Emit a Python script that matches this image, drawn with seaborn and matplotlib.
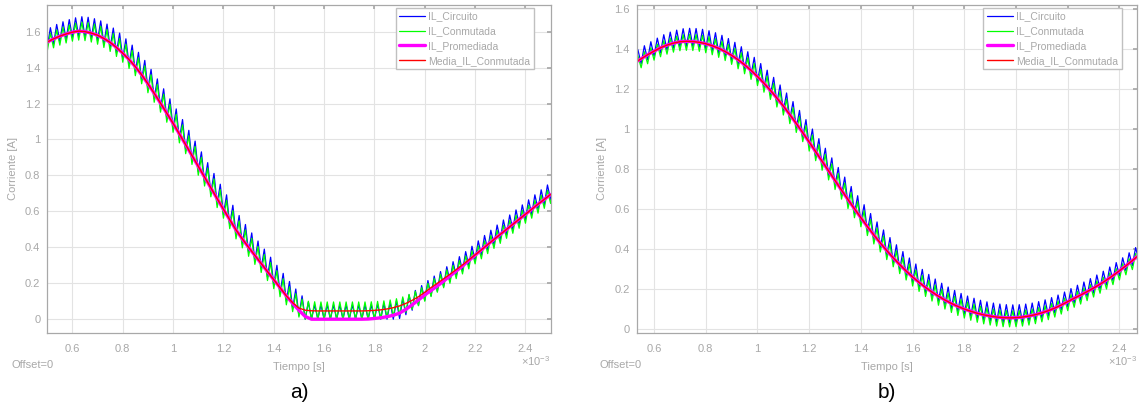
import numpy as np
import matplotlib.pyplot as plt
import seaborn as sns
from matplotlib.ticker import FuncFormatter

# Periodo de conmutacion (ms) y rejilla de instantes de conmutacion
T_CONM = 0.025

# ---- a) corriente promediada y media de la conmutada (A), cada 0.025 ms desde 0.5 ms
t_a = np.round(0.5 + T_CONM * np.arange(81), 3)
prom_a = [1.542, 1.560, 1.575, 1.587, 1.597, 1.603, 1.600, 1.592, 1.580, 1.562,
          1.540, 1.512, 1.480, 1.445, 1.405, 1.360, 1.310, 1.257, 1.202, 1.146,
          1.090, 1.031, 0.971, 0.911, 0.851, 0.791, 0.731, 0.671, 0.612, 0.554,
          0.497, 0.447, 0.400, 0.355, 0.310, 0.265, 0.220, 0.175, 0.130, 0.088,
          0.050, 0.015, 0.000, 0.000, 0.000, 0.000, 0.000, 0.000, 0.000, 0.000,
          0.000, 0.001, 0.004, 0.008, 0.014, 0.022, 0.034, 0.055, 0.080, 0.107,
          0.135, 0.160, 0.185, 0.212, 0.240, 0.268, 0.296, 0.326, 0.356, 0.386,
          0.415, 0.444, 0.472, 0.500, 0.528, 0.556, 0.584, 0.612, 0.640, 0.667,
          0.694]
media_a = [1.542, 1.560, 1.575, 1.587, 1.597, 1.603, 1.600, 1.592, 1.580, 1.562,
           1.540, 1.512, 1.480, 1.445, 1.405, 1.360, 1.310, 1.257, 1.202, 1.146,
           1.090, 1.031, 0.971, 0.911, 0.851, 0.791, 0.731, 0.671, 0.612, 0.554,
           0.497, 0.447, 0.400, 0.355, 0.310, 0.265, 0.220, 0.175, 0.130, 0.092,
           0.062, 0.050, 0.047, 0.046, 0.046, 0.046, 0.046, 0.046, 0.046, 0.046,
           0.046, 0.047, 0.049, 0.052, 0.057, 0.064, 0.074, 0.088, 0.105, 0.125,
           0.150, 0.176, 0.200, 0.225, 0.250, 0.276, 0.302, 0.330, 0.358, 0.386,
           0.415, 0.444, 0.472, 0.500, 0.528, 0.556, 0.584, 0.612, 0.640, 0.667,
           0.694]
# rizado: desplazamiento del centro y semiamplitud (A)
desv_circ_a, amp_circ_a = 0.025, 0.055
desv_conm_a, amp_conm_a = 0.0, 0.05

# ---- b) idem, cada 0.025 ms desde 0.525 ms
t_b = np.round(0.525 + T_CONM * np.arange(79), 3)
prom_b = [1.330, 1.350, 1.370, 1.388, 1.405, 1.418, 1.428, 1.435, 1.437, 1.436,
          1.432, 1.425, 1.415, 1.402, 1.386, 1.367, 1.345, 1.320, 1.292, 1.261,
          1.228, 1.192, 1.154, 1.114, 1.071, 1.027, 0.981, 0.934, 0.886, 0.838,
          0.790, 0.742, 0.694, 0.647, 0.601, 0.556, 0.512, 0.470, 0.430, 0.392,
          0.356, 0.322, 0.290, 0.260, 0.233, 0.208, 0.185, 0.164, 0.145, 0.128,
          0.113, 0.100, 0.089, 0.079, 0.071, 0.065, 0.060, 0.057, 0.056, 0.057,
          0.060, 0.065, 0.072, 0.081, 0.092, 0.105, 0.120, 0.137, 0.154, 0.170,
          0.187, 0.205, 0.224, 0.245, 0.267, 0.291, 0.316, 0.342, 0.369]
media_b = list(prom_b)  # en b) la media coincide con la promediada
desv_circ_b, amp_circ_b = 0.02, 0.045
desv_conm_b, amp_conm_b = -0.005, 0.04

GRIS = '#a8a8a8'


def triangulo(t, centro, desv, amp):
    # valle en cada instante de conmutacion, pico a medio periodo
    c = np.asarray(centro) + desv
    tt = np.column_stack([t, t + T_CONM / 2]).ravel()
    yy = np.column_stack([c - amp, c + amp]).ravel()
    return tt, np.clip(yy, 0, None)


def dibujar(ax, t, prom, media, circ, conm, xlim, ylim, leg_x):
    tc, yc = triangulo(t, prom, *circ)
    tm, ym = triangulo(t, media, *conm)
    sns.lineplot(x=tc, y=yc, color='#0000ff', lw=0.9, label='IL_Circuito',
                 ax=ax, estimator=None, sort=False)
    sns.lineplot(x=tm, y=ym, color='#00ff00', lw=0.9, label='IL_Conmutada',
                 ax=ax, estimator=None, sort=False)
    sns.lineplot(x=t, y=prom, color='#ff00ff', lw=2.4, label='IL_Promediada',
                 ax=ax, estimator=None, sort=False)
    sns.lineplot(x=t, y=media, color='#ff0000', lw=1.0, label='Media_IL_Conmutada',
                 ax=ax, estimator=None, sort=False)

    ax.set_xlim(*xlim)
    ax.set_ylim(*ylim)
    ax.set_xticks(np.arange(0.6, 2.41, 0.2))
    ax.set_yticks(np.arange(0, 1.61, 0.2))
    fmt = FuncFormatter(lambda v, p: f'{v:.1f}'.rstrip('0').rstrip('.'))
    ax.xaxis.set_major_formatter(fmt)
    ax.yaxis.set_major_formatter(fmt)
    ax.grid(True, color='#e3e3e3', lw=0.8)
    for s in ax.spines.values():
        s.set_color(GRIS)
        s.set_linewidth(0.9)
    ax.tick_params(direction='in', length=3, color=GRIS, labelcolor=GRIS,
                   labelsize=8, top=True, right=True, pad=5)
    ax.tick_params(axis='x', pad=8)
    ax.set_xlabel('Tiempo [s]', color=GRIS, fontsize=8)
    ax.set_ylabel('Corriente [A]', color=GRIS, fontsize=8)
    ax.xaxis.set_label_coords(0.5, -0.088)
    ax.yaxis.set_label_coords(-0.059, 0.5)
    ax.text(1.0, -0.088, r'$\times10^{-3}$', transform=ax.transAxes,
            ha='right', va='center', color=GRIS, fontsize=8)
    ax.legend(loc='upper right', bbox_to_anchor=(leg_x, 0.99), borderaxespad=0,
              fontsize=7.5, frameon=True, fancybox=False, edgecolor='#c0c0c0',
              labelcolor=GRIS, handlelength=2.5, handletextpad=0.3,
              borderpad=0.35, labelspacing=0.45, framealpha=1)


sns.set_theme(style="whitegrid")
plt.rcParams['font.family'] = ['Liberation Sans', 'DejaVu Sans']
plt.rcParams['mathtext.fontset'] = 'custom'
plt.rcParams['mathtext.rm'] = 'Liberation Sans'

fig = plt.figure(figsize=(11.44, 4.08), dpi=100)
ax_a = fig.add_axes([0.0413, 0.1846, 0.4400, 0.8039])
ax_b = fig.add_axes([0.5566, 0.1846, 0.4373, 0.8039])

dibujar(ax_a, t_a, prom_a, media_a, (desv_circ_a, amp_circ_a),
        (desv_conm_a, amp_conm_a), (0.5, 2.5), (-0.075, 1.75), 0.967)
dibujar(ax_b, t_b, prom_b, media_b, (desv_circ_b, amp_circ_b),
        (desv_conm_b, amp_conm_b), (0.533, 2.468), (-0.018, 1.62), 0.969)

fig.text(11 / 1144, 1 - 365 / 408, 'Offset=0', color=GRIS, fontsize=8, va='center')
fig.text(600 / 1144, 1 - 365 / 408, 'Offset=0', color=GRIS, fontsize=8, va='center')
fig.text(299 / 1144, 1 - 392 / 408, 'a)', color='black', fontsize=15, ha='center', va='center')
fig.text(887 / 1144, 1 - 392 / 408, 'b)', color='black', fontsize=15, ha='center', va='center')

fig.savefig('out.png', dpi=100)
